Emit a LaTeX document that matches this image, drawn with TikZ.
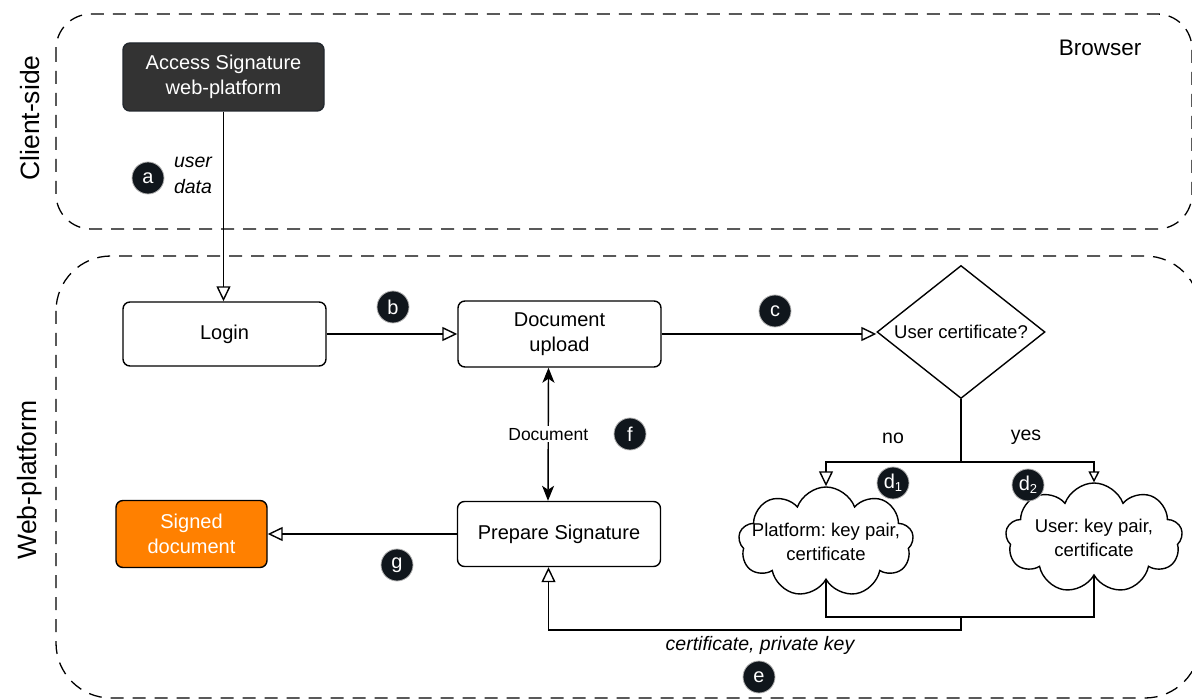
\documentclass[tikz,border=0pt]{standalone}
\usepackage{fontspec}
\setmainfont{Liberation Sans}
\usetikzlibrary{arrows.meta,shapes.geometric,shapes.symbols}
\definecolor{darkfill}{RGB}{51,51,51}
\definecolor{darkline}{RGB}{35,40,46}
\definecolor{orangefill}{RGB}{255,128,0}
\definecolor{badgefill}{RGB}{16,22,28}
\frenchspacing
\begin{document}
\begin{tikzpicture}[x=1pt,y=-1pt,
  zone/.style={draw, line width=1.3pt, dash pattern=on 13pt off 9pt},
  box/.style={draw, rounded corners=7pt, line width=1.4pt, minimum width=203pt, minimum height=66pt, align=center, font=\fontsize{20}{24.5}\selectfont, inner sep=2pt},
  badge/.style={circle, fill=badgefill, draw=gray!60, line width=0.8pt, minimum size=32pt, inner sep=0pt, text=white, font=\fontsize{20}{20}\selectfont},
  oa/.style={-{Triangle[open, length=15pt, width=14pt, line width=1.4pt]}, line width=1.4pt},
  oasmall/.style={-{Triangle[open, length=11pt, width=11pt, line width=1.4pt]}, line width=1.4pt},
  dbl/.style={{Stealth[length=15pt, width=12pt, inset=4pt]}-{Stealth[length=15pt, width=12pt, inset=4pt]}, line width=1.4pt},
  lab/.style={font=\fontsize{19.5}{26}\selectfont, align=center, inner sep=1pt},
  cloudbox/.style={cloud, draw, line width=1.4pt, cloud puffs=9, cloud puff arc=140, cloud ignores aspect, inner sep=0pt},
  cloudtext/.style={font=\fontsize{18.5}{24}\selectfont, align=center},
]
\useasboundingbox (0,0) rectangle (1192,700);
\begin{scope}
\clip (0,0) rectangle (1192,700);
\draw[zone, rounded corners=35pt] (56,14) rectangle (1192,229);
\draw[zone, rounded corners=55pt] (56,256) rectangle (1200,698);
\end{scope}

% side labels
\node[rotate=90, font=\fontsize{26.5}{30}\selectfont] (cs) at (30,118) {Client-side};
\node[rotate=90, font=\fontsize{26.5}{30}\selectfont] (wp) at (30,480) {Web-platform};
\node[font=\fontsize{22.5}{26}\selectfont] (br) at (1100,48) {Browser};

% main nodes
\node[box, fill=darkfill, draw=darkline, text=white, minimum width=201pt, minimum height=68pt] (acc) at (223.5,77) {Access Signature\\web-platform};
\node[box, minimum height=64pt] (login) at (224.5,334) {Login};
\node[box] (upload) at (559.5,334) {Document\\upload};
\node[diamond, draw, line width=1.4pt, minimum width=168pt, minimum height=133pt, inner sep=0pt, shape aspect=1.26, font=\fontsize{18.5}{22}\selectfont] (dia) at (961,332) {User certificate?};
\node[box, minimum height=65pt] (prep) at (559,534) {Prepare Signature};
\node[box, fill=orangefill, text=white, minimum width=151pt, minimum height=67pt] (signed) at (191.5,534) {Signed\\document};

\node[cloudbox, minimum width=175pt, minimum height=110pt, label={[cloudtext]center:Platform: key pair,\\certificate}] (c1) at (826,542) {};
\node[cloudbox, minimum width=177pt, minimum height=110pt, label={[cloudtext]center:User: key pair,\\certificate}] (c2) at (1094,538) {};

% badges
\node[badge] (ba) at (148,178) {a};
\node[badge] (bb) at (393,307) {b};
\node[badge] (bc) at (775,311) {c};
\node[badge] (bd1) at (893,483) {d\raisebox{-3.5pt}{\fontsize{13}{13}\selectfont 1}};
\node[badge] (bd2) at (1028,485) {d\raisebox{-3.5pt}{\fontsize{13}{13}\selectfont 2}};
\node[badge] (be) at (759,677) {e};
\node[badge] (bf) at (630,434) {f};
\node[badge] (bg) at (397,565) {g};

% connector labels
\node[lab, font=\fontsize{19.5}{26}\selectfont\itshape] (ud) at (193,175) {user\\data};
\node[lab] (no) at (893,438) {no};
\node[lab] (yes) at (1026,437) {yes};
\node[lab, font=\fontsize{19.5}{26}\selectfont\itshape] (cpk) at (760,645) {certificate, private key};

% connectors
\draw[oa] (acc.south) -- (acc.south |- login.north);
\draw[oa] (login.east) -- (upload.west);
\draw[oa] (upload.east) -- (upload.east -| dia.west);
\coordinate (split) at (961,462);
\draw[line width=1.4pt] (dia.south) -- (split);
\draw[oa] (split) -| (c1.north);
\draw[oasmall] (split) -| (c2.north);
\coordinate (j1) at (961,617);
\coordinate (j2) at (961,630);
\draw[line width=1.4pt] (c1.south) |- (j1) -| (c2.south);
\draw[oa] (j1) -- (j2) -| ([xshift=-10.5pt]prep.south);
\draw[dbl] ([xshift=-11pt]upload.south) -- node[lab, fill=white, font=\fontsize{17.5}{20}\selectfont, inner sep=2pt] (docl) {Document} ([xshift=-11pt]prep.north);
\draw[oa] (prep.west) -- (signed.east);
\end{tikzpicture}
\end{document}
